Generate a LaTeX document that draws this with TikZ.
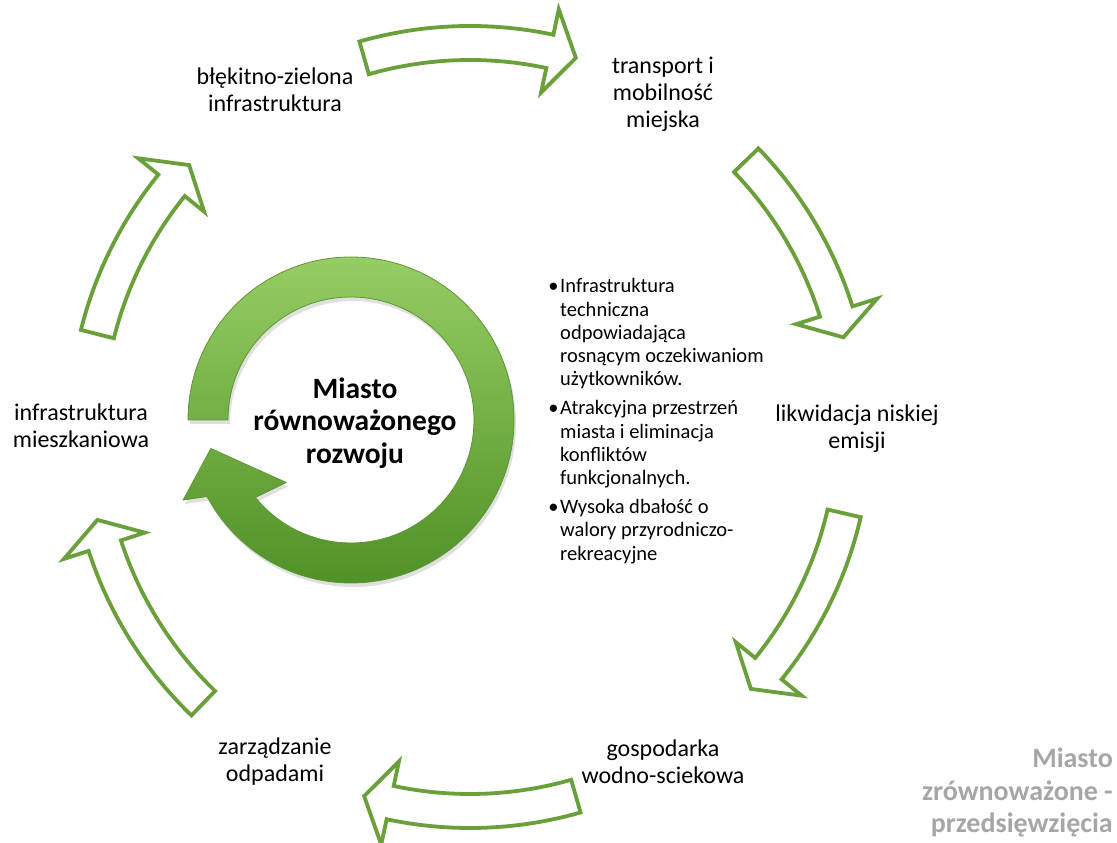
\documentclass[tikz,border=0pt]{standalone}
\usepackage{fontspec}
\setmainfont{Carlito}
\usetikzlibrary{shadows}
\definecolor{arrgreen}{RGB}{106,160,58}
\definecolor{ringtop}{RGB}{150,205,100}
\definecolor{ringbot}{RGB}{80,145,40}
\definecolor{ringline}{RGB}{95,150,50}
\definecolor{grayt}{RGB}{166,166,166}
\tikzset{
 cyc/.style={draw=arrgreen, line width=3.8pt, fill=white, line join=miter},
 lbl/.style={font=\fontsize{24}{27}\selectfont, align=center, inner sep=0pt, text=black},
}
\newcommand\bul{\leavevmode\llap{•\hspace{1.5pt}}}
\begin{document}
\begin{tikzpicture}[x=1pt,y=1pt]
\useasboundingbox (0,0) rectangle (1117,843);
% cycle of outline arrows (tail angle / notch angle)
\begin{scope}[shift={(470,416)}]
\foreach \t/\n in {106/78, 44/17.5, -13/-39, -74/-102, -134/-162, 166/141}{
 \draw[cyc] (\t:401) arc[start angle=\t, end angle=\n, radius=401]
   -- (\n:427) -- (\n-4:384) -- (\n:342) -- (\n:367)
   arc[start angle=\n, end angle=\t, radius=367] -- cycle;
}
\end{scope}
% central circular arrow
\begin{scope}[shift={(351,423)}]
\path[draw=ringline, line width=0.8pt, top color=ringtop, bottom color=ringbot,
      drop shadow={opacity=0.25, shadow xshift=2pt, shadow yshift=-4pt}]
  (180:123) -- (180:163) arc[start angle=180, end angle=-152, radius=163]
  -- (-154.5:186) -- (-168.5:143) -- (-136:90) -- (-141:123)
  arc[start angle=-141, end angle=180, radius=123] -- cycle;
\end{scope}
\node[font=\bfseries\fontsize{29.5}{32.5}\selectfont, align=center, inner sep=0pt] (center) at (355,420) {Miasto\\równoważonego\\rozwoju};
% labels
\node[lbl] (n1) at (275,753) {błękitno-zielona\\infrastruktura};
\node[lbl] (n2) at (663,748.5) {transport i\\mobilność\\miejska};
\node[lbl] (n3) at (857,414) {likwidacja niskiej\\emisji};
\node[lbl] (n4) at (663,81) {gospodarka\\wodno-sciekowa};
\node[lbl] (n5) at (275,81) {zarządzanie\\odpadami};
\node[lbl] (n6) at (81,417) {infrastruktura\\mieszkaniowa};
% bullets
\node[anchor=north west, text width=240pt, align=flush left, inner sep=0pt,
      font=\fontsize{20.5}{23.2}\selectfont] (bullets) at (549,564.5) {%
\setlength{\parskip}{6pt}\setlength{\leftskip}{11pt}\setlength{\parindent}{0pt}%
\bul Infrastruktura\\techniczna\\odpowiadająca\\rosnącym oczekiwaniom\\użytkowników.\par
\bul Atrakcyjna przestrzeń\\miasta i eliminacja\\konfliktów\\funkcjonalnych.\par
\bul Wysoka dbałość o\\walory przyrodniczo-\\rekreacyjne\par};
% gray caption
\node[anchor=north east, align=right, inner sep=0pt, text=grayt,
      font=\bfseries\fontsize{28}{32.5}\selectfont] (caption) at (1113,95) {Miasto\\zrównoważone -\\przedsięwzięcia};
\end{tikzpicture}
\end{document}
